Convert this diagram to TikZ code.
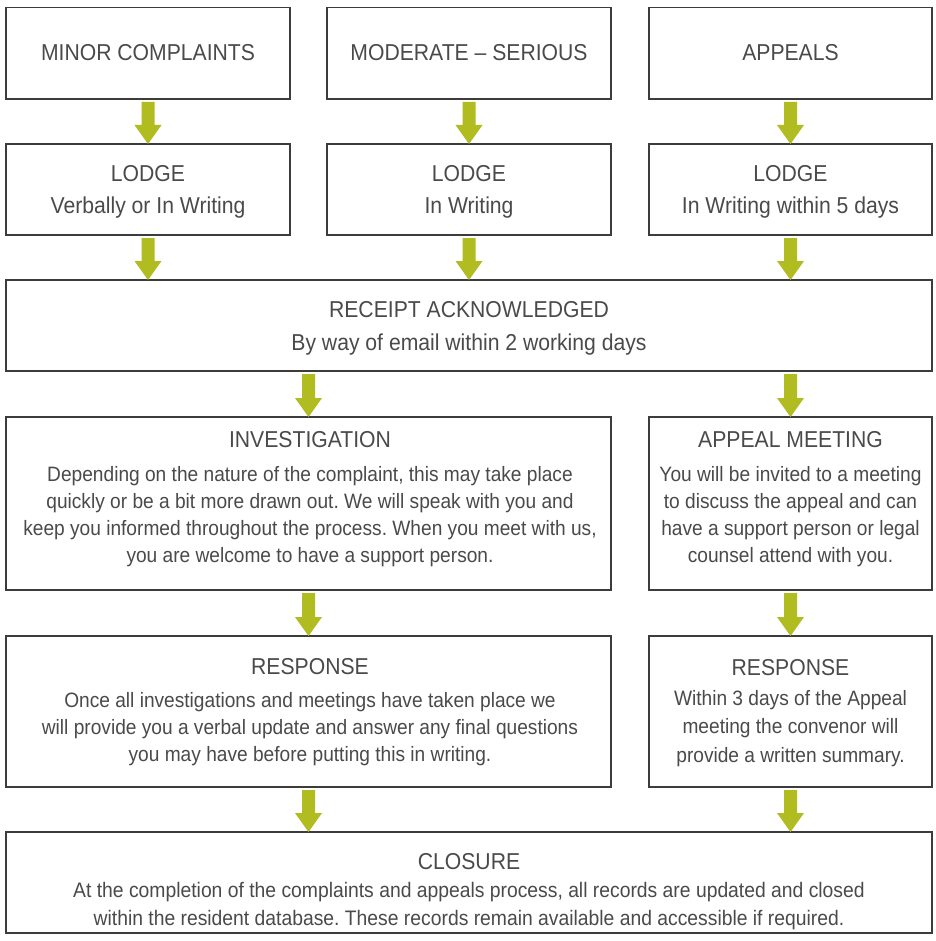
\documentclass[tikz,border=0pt]{standalone}
\usepackage{fontspec}
\setmainfont{Liberation Sans}[FakeStretch=0.92]
\frenchspacing
\definecolor{boxcol}{HTML}{3C3C3C}
\definecolor{arrowcol}{HTML}{B0BC1F}
\definecolor{txtcol}{HTML}{4A4A4A}
\newcommand\flowarrow[2]{%
  \fill[arrowcol] ([xshift=-6.5pt,yshift=-3pt]#1) -- ([xshift=6.5pt,yshift=-3pt]#1)
    -- ([xshift=6.5pt,yshift=19pt]#2) -- ([xshift=13.5pt,yshift=19pt]#2) -- (#2)
    -- ([xshift=-13.5pt,yshift=19pt]#2) -- ([xshift=-6.5pt,yshift=19pt]#2) -- cycle;}
\tikzset{
  box/.style={draw=boxcol, line width=1.5pt, fill=white, inner sep=0pt, outer sep=0pt},
  ttl/.style={text=txtcol, font=\fontsize{23}{31}\selectfont\frenchspacing, align=center, inner sep=0pt},
  bigbody/.style={text=txtcol, font=\fontsize{23}{31}\selectfont\frenchspacing, align=center, inner sep=0pt},
  bdy/.style={text=txtcol, font=\fontsize{20.8}{27}\selectfont\frenchspacing, align=center, inner sep=0pt},
}
\begin{document}
\begin{tikzpicture}[x=1pt,y=-1pt]
\path[use as bounding box, fill=white] (0,0) rectangle (935,941);

% row 1
\node[box, minimum width=284pt, minimum height=91.5pt] (minor) at (148,53.25) {};
\node[box, minimum width=284pt, minimum height=91.5pt] (moder) at (469,53.25) {};
\node[box, minimum width=283pt, minimum height=91.5pt] (appeal) at (790.5,53.25) {};
\node[ttl] (minorT) at (148,53) {MINOR COMPLAINTS};
\node[ttl] (moderT) at (469,53) {MODERATE – SERIOUS};
\node[ttl] (appealT) at (790.5,53) {APPEALS};

% row 2
\node[box, minimum width=284pt, minimum height=91pt] (lodgeA) at (148,189.5) {};
\node[box, minimum width=284pt, minimum height=91pt] (lodgeB) at (469,189.5) {};
\node[box, minimum width=283pt, minimum height=91pt] (lodgeC) at (790.5,189.5) {};
\node[ttl] (lodgeAT) at (148,174) {LODGE};
\node[bigbody] (lodgeAB) at (148,207.3) {Verbally or In Writing};
\node[ttl] (lodgeBT) at (469,174) {LODGE};
\node[bigbody] (lodgeBB) at (469,207.3) {In Writing};
\node[ttl] (lodgeCT) at (790.5,174) {LODGE};
\node[bigbody] (lodgeCB) at (790.5,207.3) {In Writing within 5 days};

% row 3
\node[box, minimum width=926pt, minimum height=91pt] (rec) at (469,325.5) {};
\node[ttl] (recT) at (469,309.5) {RECEIPT ACKNOWLEDGED};
\node[bigbody] (recB) at (469,344.8) {By way of email within 2 working days};

% row 4
\node[box, minimum width=605pt, minimum height=173pt] (inv) at (308.5,503.5) {};
\node[box, minimum width=283pt, minimum height=173pt] (appm) at (790.5,503.5) {};
\node[ttl] (invT) at (310,440) {INVESTIGATION};
\node[bdy] (invB) at (310,516.6) {Depending on the nature of the complaint, this may take place\\
quickly or be a bit more drawn out. We will speak with you and\\
keep you informed throughout the process. When you meet with us,\\
you are welcome to have a support person.};
\node[ttl] (appmT) at (790.5,440) {APPEAL MEETING};
\node[bdy] (appmB) at (790.5,516.6) {You will be invited to a meeting\\
to discuss the appeal and can\\
have a support person or legal\\
counsel attend with you.};

% row 5
\node[box, minimum width=605pt, minimum height=151pt] (resp) at (308.5,711.5) {};
\node[box, minimum width=283pt, minimum height=151pt] (resp2) at (790.5,711.5) {};
\node[ttl] (respT) at (310,667) {RESPONSE};
\node[bdy] (respB) at (310,729.1) {Once all investigations and meetings have taken place we\\
will provide you a verbal update and answer any final questions\\
you may have before putting this in writing.};
\node[ttl] (resp2T) at (790.5,668) {RESPONSE};
\node[bdy, font=\fontsize{20.8}{28.5}\selectfont\frenchspacing] (resp2B) at (790.5,728.6) {Within 3 days of the Appeal\\
meeting the convenor will\\
provide a written summary.};

% row 6
\node[box, minimum width=926pt, minimum height=101pt] (clo) at (469,882.5) {};
\node[ttl] (cloT) at (469,862) {CLOSURE};
\node[bdy, font=\fontsize{21}{28}\selectfont\frenchspacing] (cloB) at (469,906.1) {At the completion of the complaints and appeals process, all records are updated and closed\\
within the resident database. These records remain available and accessible if required.};

% helper coordinates
\coordinate (r2i) at (inv.north |- rec.south);
\coordinate (r2a) at (appm.north |- rec.south);
\coordinate (la2r) at (lodgeA.south |- rec.north);
\coordinate (lb2r) at (lodgeB.south |- rec.north);
\coordinate (lc2r) at (lodgeC.south |- rec.north);
\coordinate (rs2c) at (resp.south |- clo.north);
\coordinate (rs22c) at (resp2.south |- clo.north);

% arrows
\flowarrow{minor.south}{lodgeA.north}
\flowarrow{moder.south}{lodgeB.north}
\flowarrow{appeal.south}{lodgeC.north}
\flowarrow{lodgeA.south}{la2r}
\flowarrow{lodgeB.south}{lb2r}
\flowarrow{lodgeC.south}{lc2r}
\flowarrow{r2i}{inv.north}
\flowarrow{r2a}{appm.north}
\flowarrow{inv.south}{resp.north}
\flowarrow{appm.south}{resp2.north}
\flowarrow{resp.south}{rs2c}
\flowarrow{resp2.south}{rs22c}
\end{tikzpicture}
\end{document}
